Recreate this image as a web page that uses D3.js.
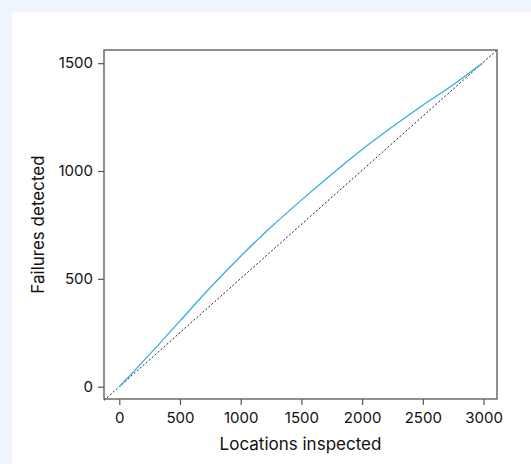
<!DOCTYPE html>
<html>
<head>
<meta charset="utf-8">
<script src="https://cdn.jsdelivr.net/npm/d3@7"></script>
<style>
  body { margin: 0; background: #eef5fc; }
  #panel { position: absolute; left: 12px; top: 12px; width: 530px; height: 460px; background: #fff; }
  svg { position: absolute; left: 0; top: 0; }
  text { font-family: Inter, "Noto Sans", sans-serif; fill: #111; }
</style>
</head>
<body>
<div id="panel"></div>
<svg id="chart" width="531" height="464"></svg>
<script>
// cumulative failures found vs locations inspected
const locations = [0, 250, 500, 750, 1000, 1250, 1500, 1750, 2000, 2250, 2500, 2750, 2990];
const failures  = [0, 150, 305, 460, 605, 740, 865, 985, 1100, 1205, 1305, 1400, 1500];
const totalLocations = 2990;
const totalFailures = 1500;
const xTicks = [0, 500, 1000, 1500, 2000, 2500, 3000];
const yTicks = [0, 500, 1000, 1500];

const margin = {left: 104, top: 50, right: 34, bottom: 65};
const width = 531, height = 464;

const svg = d3.select('#chart');

const x = d3.scaleLinear()
    .domain([-126, 3111])
    .range([margin.left, width - margin.right]);
const y = d3.scaleLinear()
    .domain([-57, 1561])
    .range([height - margin.bottom, margin.top]);

// random-order baseline, across the whole panel
const baseline = x.domain().map(v => [v, v * totalFailures / totalLocations]);
svg.append('path')
    .attr('d', d3.line().x(d => x(d[0])).y(d => y(d[1]))(baseline))
    .style('fill', 'none')
    .style('stroke', '#222')
    .style('stroke-width', 1)
    .style('stroke-dasharray', '2,2');

const pts = locations.map((v, i) => [v, failures[i]]);
svg.append('path')
    .attr('d', d3.line().curve(d3.curveMonotoneX).x(d => x(d[0])).y(d => y(d[1]))(pts))
    .style('fill', 'none')
    .style('stroke', '#33ade4')
    .style('stroke-width', 1.3);

// frame
svg.append('rect')
    .attr('x', margin.left)
    .attr('y', margin.top)
    .attr('width', width - margin.left - margin.right)
    .attr('height', height - margin.top - margin.bottom)
    .style('fill', 'none')
    .style('stroke', '#555')
    .style('stroke-width', 1.3);

const xAxis = svg.append('g')
    .attr('transform', `translate(0,${height - margin.bottom})`)
    .call(d3.axisBottom(x).tickValues(xTicks).tickSize(6).tickPadding(7).tickFormat(d3.format('d')));
const yAxis = svg.append('g')
    .attr('transform', `translate(${margin.left},0)`)
    .call(d3.axisLeft(y).tickValues(yTicks).tickSize(6).tickPadding(5).tickFormat(d3.format('d')));

[xAxis, yAxis].forEach(a => {
    a.select('.domain').remove();
    a.selectAll('line').style('stroke', '#555').style('stroke-width', 1.2);
    a.selectAll('text').style('font-size', '15px').style('fill', '#111')
        .style('font-family', 'Inter, "Noto Sans", sans-serif');
});

svg.append('text')
    .attr('x', (margin.left + width - margin.right) / 2)
    .attr('y', 450)
    .attr('text-anchor', 'middle')
    .style('font-size', '17px')
    .text('Locations inspected');

svg.append('text')
    .attr('transform', `translate(44,${(margin.top + height - margin.bottom) / 2}) rotate(-90)`)
    .attr('text-anchor', 'middle')
    .style('font-size', '17px')
    .text('Failures detected');
</script>
</body>
</html>
